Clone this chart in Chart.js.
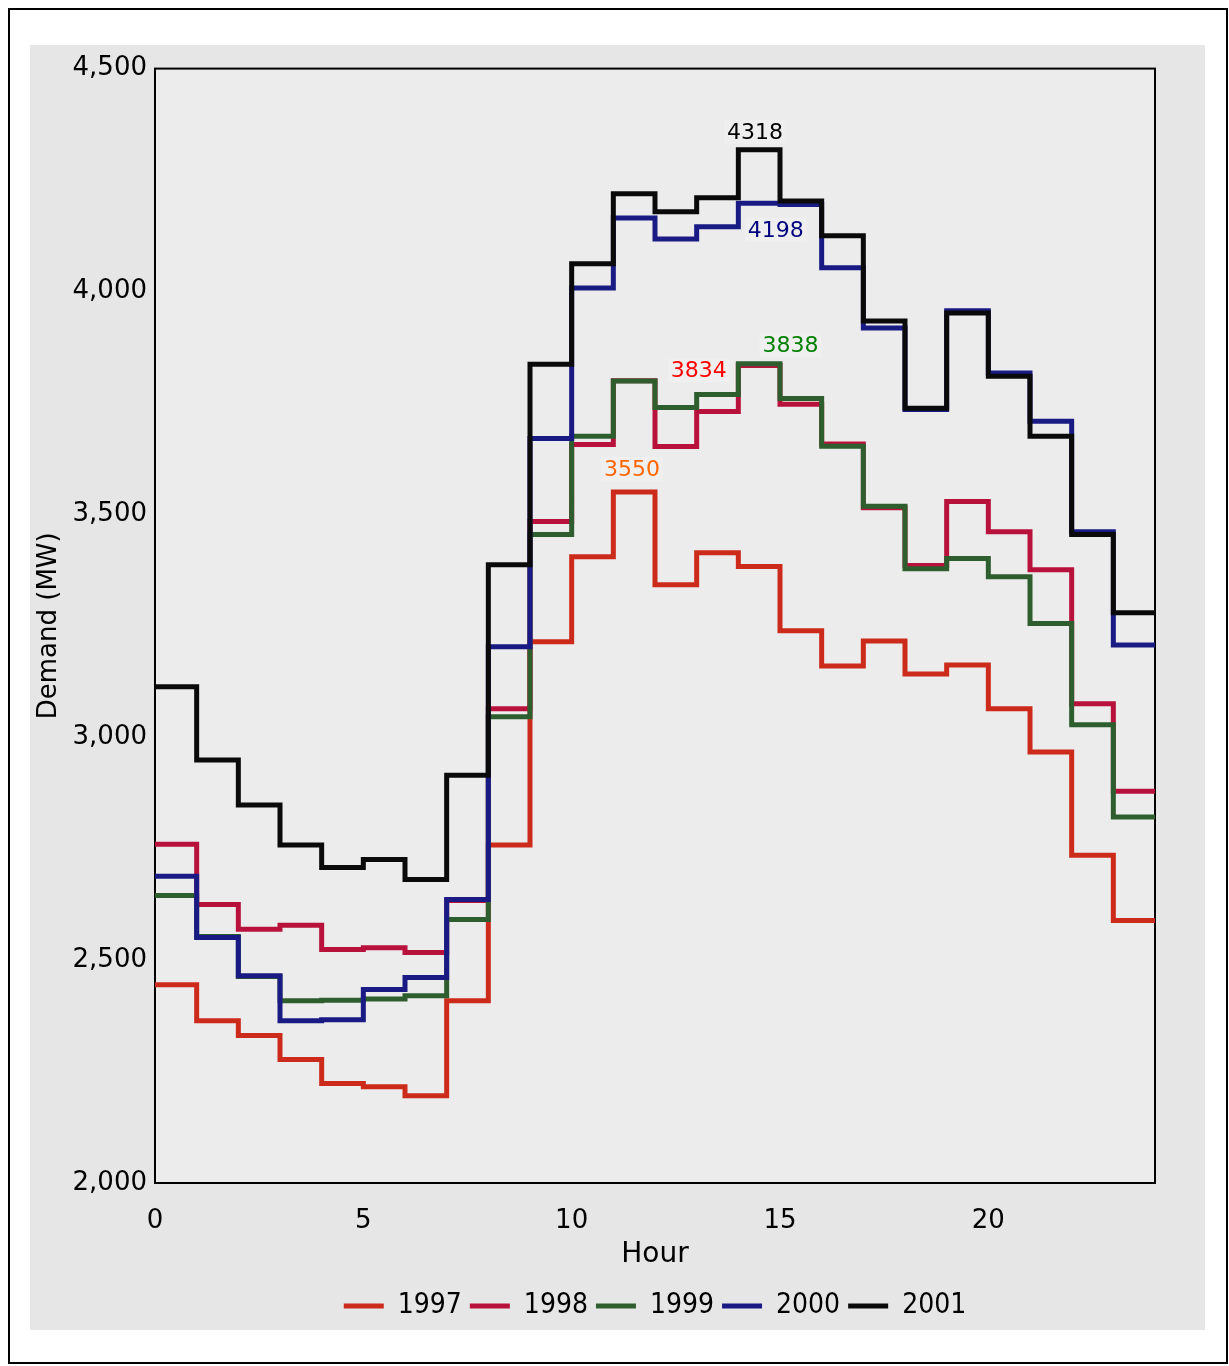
<!DOCTYPE html>
<html>
<head>
<meta charset="utf-8">
<script src="https://cdn.jsdelivr.net/npm/chart.js@4/dist/chart.umd.min.js"></script>
<style>
  body { margin: 0; background: #fff; }
  #frame { position: absolute; left: 8px; top: 8px; width: 1216px; height: 1352px; border: 2px solid #000; }
  #panel { position: absolute; left: 30px; top: 45px; width: 1175px; height: 1285px; background: #e6e6e6; }
  #wrap { position: absolute; left: 30px; top: 45px; width: 1175px; height: 1290px; }
</style>
</head>
<body>
<div id="frame"></div>
<div id="panel"></div>
<div id="wrap"><canvas id="myChart"></canvas></div>
<script>
// hourly demand (MW), value holds from hour h to h+1
const hours = [0, 1, 2, 3, 4, 5, 6, 7, 8, 9, 10, 11, 12, 13, 14, 15, 16, 17, 18, 19, 20, 21, 22, 23];
const years = ["1997", "1998", "1999", "2000", "2001"];

const y1997 = [2445, 2364, 2331, 2277, 2223, 2216, 2196, 2409, 2758, 3214, 3405, 3550, 3342, 3414, 3383, 3239, 3160, 3216, 3142, 3162, 3064, 2967, 2735, 2589];
const y1998 = [2760, 2625, 2569, 2578, 2524, 2528, 2517, 2634, 3064, 3484, 3657, 3800, 3652, 3731, 3834, 3747, 3658, 3515, 3385, 3529, 3461, 3376, 3075, 2879];
const y1999 = [2645, 2553, 2463, 2409, 2410, 2413, 2420, 2591, 3046, 3455, 3675, 3799, 3740, 3769, 3838, 3760, 3653, 3518, 3378, 3401, 3360, 3255, 3028, 2821];
const y2000 = [2688, 2551, 2465, 2364, 2366, 2434, 2461, 2636, 3203, 3670, 4008, 4165, 4118, 4145, 4198, 4195, 4053, 3918, 3735, 3957, 3817, 3709, 3461, 3207];
const y2001 = [3113, 2949, 2848, 2758, 2708, 2726, 2681, 2915, 3387, 3837, 4062, 4219, 4179, 4210, 4318, 4203, 4125, 3934, 3738, 3952, 3810, 3675, 3455, 3279];

const yTicks = [2000, 2500, 3000, 3500, 4000, 4500];
const xTicks = [0, 5, 10, 15, 20];

const series = [y1997, y1998, y1999, y2000, y2001];
const lineColors = ["#cc2a1a", "#b8123c", "#2e5e2e", "#1a1a85", "#0a0a0a"];
const peakColors = ["#ff6600", "#ff0000", "#008000", "#000080", "#000000"];
// where the peak value text sits: hour, and baseline offset (px) from the peak
const peakHour = [11.45, 13.05, 15.25, 14.9, 14.4];
const peakDy = [-16, 12, -12, 34, -11];

const FONT = "'DejaVu Sans', Verdana, sans-serif";
const LEGEND_FONT = "'DejaVu Sans Condensed', 'DejaVu Sans', sans-serif";

function toPoints(vals) {
  let pts = hours.map((h, i) => ({ x: h, y: vals[i] }));
  pts.push({ x: hours[hours.length - 1] + 1, y: vals[vals.length - 1] });
  return pts;
}

const plotFrame = {
  id: "plotFrame",
  beforeDraw(chart) {
    const { ctx, chartArea: a } = chart;
    ctx.save();
    ctx.fillStyle = "#ececec";
    ctx.fillRect(a.left, a.top, a.right - a.left, a.bottom - a.top);
    ctx.restore();
  },
  beforeDatasetsDraw(chart) {
    const { ctx, chartArea: a } = chart;
    ctx.save();
    ctx.strokeStyle = "#000";
    ctx.lineWidth = 2;
    ctx.strokeRect(a.left, a.top, a.right - a.left, a.bottom - a.top);
    ctx.restore();
  }
};

const peakLabels = {
  id: "peakLabels",
  afterDatasetsDraw(chart) {
    const ctx = chart.ctx;
    const xs = chart.scales.x, ys = chart.scales.y;
    ctx.save();
    ctx.font = "22px " + FONT;
    ctx.textAlign = "center";
    ctx.textBaseline = "alphabetic";
    series.forEach((vals, i) => {
      let peak = Math.max(...vals);
      let px = xs.getPixelForValue(peakHour[i]);
      let ty = ys.getPixelForValue(peak) + peakDy[i];
      let txt = String(peak);
      let w = ctx.measureText(txt).width + 6;
      ctx.fillStyle = "rgba(240,240,240,0.9)";
      ctx.fillRect(px - w / 2, ty - 19, w, 24);
      ctx.fillStyle = peakColors[i];
      ctx.fillText(txt, px, ty);
    });
    ctx.restore();
  }
};

const data = {
  datasets: years.map((yr, i) => ({
    label: yr,
    data: toPoints(series[i]),
    borderColor: lineColors[i],
    backgroundColor: lineColors[i],
    borderWidth: 5,
    pointRadius: 0,
    stepped: true,
    fill: false,
    order: years.length - i
  }))
};

const config = {
  type: "line",
  data: data,
  options: {
    responsive: true,
    maintainAspectRatio: false,
    animation: false,
    layout: { padding: { top: 22, right: 50, left: 0, bottom: 5 } },
    plugins: {
      tooltip: { enabled: false },
      legend: {
        position: "bottom",
        fullSize: false,
        labels: {
          usePointStyle: true,
          pointStyle: "line",
          pointStyleWidth: 40,
          color: "#000",
          padding: 8,
          font: { family: LEGEND_FONT, size: 28 },
          sort: (a, b) => a.datasetIndex - b.datasetIndex
        }
      }
    },
    scales: {
      x: {
        type: "linear",
        min: 0,
        max: 24,
        afterBuildTicks: (s) => { s.ticks = xTicks.map(v => ({ value: v })); },
        afterFit: (s) => { s.height = 101; },
        grid: { display: false, drawTicks: false },
        border: { display: false },
        ticks: { color: "#000", padding: 23, maxRotation: 0, font: { family: FONT, size: 26 } },
        title: { display: true, text: "Hour", color: "#000", padding: { top: 4, bottom: 12 }, font: { family: FONT, size: 28 } }
      },
      y: {
        min: 2000,
        max: 4500,
        afterBuildTicks: (s) => { s.ticks = yTicks.map(v => ({ value: v })); },
        afterFit: (s) => { s.width = 125; },
        grid: { display: false, drawTicks: false },
        border: { display: false },
        ticks: { color: "#000", padding: 8, font: { family: FONT, size: 26 } },
        title: { display: true, text: "Demand (MW)", color: "#000", font: { family: FONT, size: 26 } }
      }
    }
  },
  plugins: [plotFrame, peakLabels]
};

new Chart(document.getElementById("myChart"), config);
</script>
</body>
</html>
